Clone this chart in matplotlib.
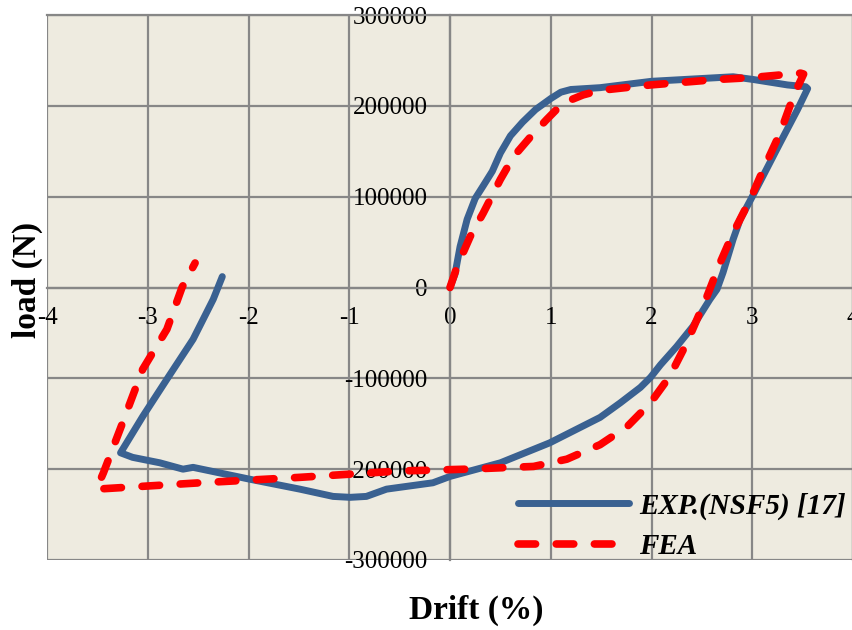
import matplotlib
matplotlib.use("Agg")
import matplotlib.pyplot as plt
from matplotlib.ticker import FixedLocator

# ---- data ----
exp_x = [0.0, 0.05, 0.10, 0.17, 0.25, 0.33, 0.42, 0.50, 0.60, 0.72, 0.85, 1.00, 1.10, 1.20, 1.49,
         2.0, 2.81, 3.01, 3.35, 3.53, 3.55, 3.45, 3.28, 3.08, 3.0, 2.88, 2.81, 2.71, 2.65, 2.58,
         2.41, 2.25, 2.09, 1.99, 1.89, 1.69, 1.49, 0.99, 0.5, 0.0, -0.17, -0.5, -0.63, -0.83,
         -0.99, -1.16, -1.49, -1.99, -2.55, -2.65, -2.88, -3.15, -3.27, -3.05, -2.81, -2.55,
         -2.45, -2.35, -2.26]
exp_y = [0, 15000, 45000, 75000, 98000, 112000, 128000, 148000, 167000, 182000, 196000, 208000,
         215000, 218000, 220000, 227000, 232000, 229000, 223000, 221000, 219000, 196000, 160000,
         117000, 100000, 75000, 53000, 16500, -2000, -13000, -43000, -65000, -85000, -99000,
         -110000, -127000, -143000, -171000, -193000, -208000, -215000, -220000, -222000,
         -230000, -231000, -230000, -222000, -211000, -198000, -200000, -193000, -187000,
         -182000, -142000, -101000, -57000, -35000, -13000, 12000]

fea_x = [0.0, 0.07, 0.2, 0.33, 0.5, 0.63, 0.8, 0.96, 1.12, 1.32, 1.49, 1.99, 2.65, 2.98, 3.48,
         3.51, 3.41, 3.28, 3.11, 2.98, 2.81, 2.68, 2.55, 2.35, 2.18, 1.99, 1.76, 1.49, 1.16, 0.83,
         0.17, -0.5, -1.49, -2.48, -3.51, -3.44, -3.25, -3.05, -2.81, -2.66, -2.53]
fea_y = [0, 23000, 56000, 82000, 119000, 144000, 166000, 185000, 203000, 212000, 217000, 223000,
         229000, 231000, 236000, 235000, 211000, 171000, 130000, 97000, 60000, 27000, -10000,
         -61000, -98000, -127000, -153000, -173000, -189000, -197000, -200000, -202000, -209000,
         -215000, -222000, -204000, -149000, -90000, -46000, 0, 27000]

x_ticks = [-4, -3, -2, -1, 0, 1, 2, 3, 4]
y_ticks = [-300000, -200000, -100000, 0, 100000, 200000, 300000]

series_names = ["EXP.(NSF5) [17]", "FEA"]

# ---- styling ----
plt.rcParams['font.family'] = ['Liberation Serif', 'DejaVu Serif']
plt.rcParams['axes.unicode_minus'] = False

W, H = 852, 630
fig = plt.figure(figsize=(W / 100, H / 100), dpi=100)
left, right, top, bottom = 47, 853, 15, 560
ax = fig.add_axes([left / W, 1 - bottom / H, (right - left) / W, (bottom - top) / H])
ax.set_facecolor('#EEEBE0')

grid_c = '#878787'
ax.plot(exp_x, exp_y, color='#3A6191', lw=5, solid_capstyle='round', solid_joinstyle='round',
        label=series_names[0], zorder=3)
ax.plot(fea_x, fea_y, color='#FF0000', lw=5.5, dashes=(2.3, 2.7), dash_capstyle='round',
        dash_joinstyle='round', label=series_names[1], zorder=4)

ax.set_xlim(-4, 4)
ax.set_ylim(-300000, 300000)
ax.xaxis.set_major_locator(FixedLocator(x_ticks))
ax.yaxis.set_major_locator(FixedLocator(y_ticks))
ax.set_xticklabels([str(v) for v in x_ticks])
ax.set_yticklabels([str(v) for v in y_ticks])
ax.grid(True, color=grid_c, lw=1.6, zorder=1)
ax.set_axisbelow(True)

for s in ['top', 'right']:
    ax.spines[s].set_color(grid_c)
    ax.spines[s].set_linewidth(1.6)
for s in ['left', 'bottom']:
    ax.spines[s].set_position('zero')
    ax.spines[s].set_color(grid_c)
    ax.spines[s].set_linewidth(1.6)

ax.tick_params(axis='both', length=0, labelsize=18, colors='black')
ax.tick_params(axis='x', pad=14)
ax.tick_params(axis='y', pad=16)

leg = ax.legend(loc='lower left', bbox_to_anchor=((518 - left) / (right - left), 0.0),
                frameon=False, borderaxespad=0, borderpad=0, handlelength=3.8,
                handletextpad=0.35, labelspacing=0.45,
                prop={'family': 'Liberation Serif', 'weight': 'bold', 'style': 'italic', 'size': 21})

fig.text(27 / W, 1 - 280 / H, 'load (N)', rotation=90, ha='center', va='center',
         fontsize=24, fontweight='bold')
fig.text(476 / W, 1 - 610 / H, 'Drift (%)', ha='center', va='center',
         fontsize=24, fontweight='bold')

fig.savefig('out.png', dpi=100)
